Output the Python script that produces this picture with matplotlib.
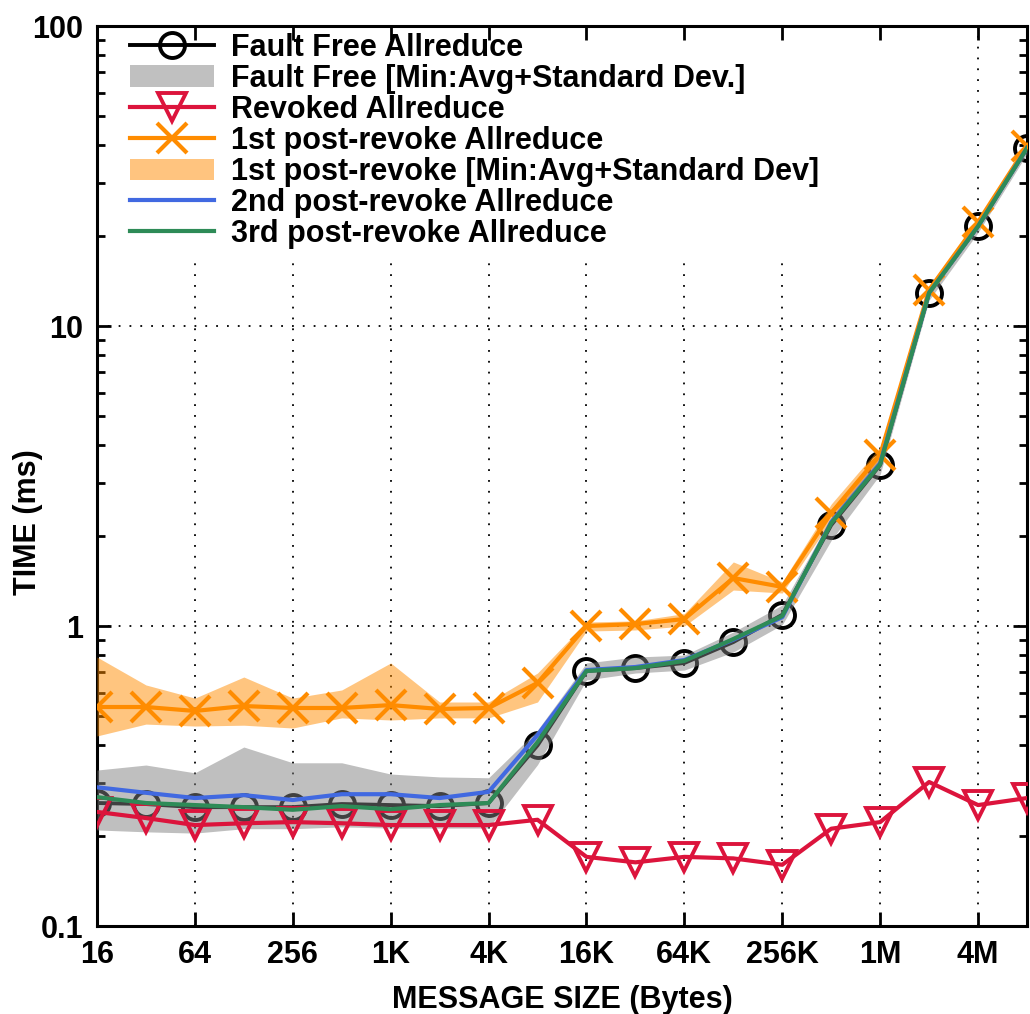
"""Allreduce timing vs message size, fault free vs revoke."""
import matplotlib
matplotlib.use("Agg")
import matplotlib.pyplot as plt
from matplotlib.patches import Rectangle
from matplotlib.ticker import FixedLocator, LogLocator, NullFormatter

plt.rcParams["font.family"] = ["Liberation Sans", "DejaVu Sans"]
plt.rcParams["font.weight"] = "bold"

# --- data ---
sizes = [16, 32, 64, 128, 256, 512, 1024, 2048, 4096, 8192, 16384, 32768,
         65536, 131072, 262144, 524288, 1048576, 2097152, 4194304, 8388608]
tick_sizes = [16, 64, 256, 1024, 4096, 16384, 65536, 262144, 1048576, 4194304]
tick_labels = ["16", "64", "256", "1K", "4K", "16K", "64K", "256K", "1M", "4M"]

fault_free = [0.257, 0.255, 0.249, 0.249, 0.249, 0.255, 0.253, 0.251, 0.257, 0.40,
              0.708, 0.724, 0.753, 0.884, 1.09, 2.17, 3.44, 12.9, 21.5, 39.2]
ff_min = [0.209, 0.206, 0.204, 0.211, 0.211, 0.214, 0.212, 0.212, 0.212, 0.345,
          0.661, 0.697, 0.713, 0.819, 1.01, 1.93, 3.2, 12.2, 20.5, 37.5]
ff_top = [0.331, 0.344, 0.324, 0.395, 0.350, 0.350, 0.321, 0.314, 0.312, 0.45,
          0.753, 0.788, 0.80, 0.955, 1.175, 2.3, 3.8, 13.4, 22.3, 40.5]

revoked = [0.240, 0.229, 0.217, 0.220, 0.222, 0.220, 0.217, 0.217, 0.217, 0.226,
           0.170, 0.163, 0.170, 0.168, 0.160, 0.211, 0.222, 0.302, 0.253, 0.267]

post1 = [0.537, 0.537, 0.521, 0.541, 0.533, 0.533, 0.545, 0.529, 0.533, 0.646,
         1.0, 1.015, 1.055, 1.445, 1.35, 2.38, 3.72, 13.2, 22.2, 39.8]
post1_min = [0.430, 0.471, 0.464, 0.467, 0.457, 0.494, 0.486, 0.494, 0.494, 0.558,
             0.962, 0.97, 1.0, 1.318, 1.288, 2.25, 3.5, 12.6, 21.3, 38.5]
post1_top = [0.788, 0.636, 0.575, 0.676, 0.575, 0.612, 0.753, 0.558, 0.558, 0.697,
             1.031, 1.04, 1.10, 1.635, 1.402, 2.55, 3.95, 13.6, 22.8, 40.8]

post2 = [0.290, 0.278, 0.267, 0.273, 0.263, 0.275, 0.275, 0.267, 0.280, 0.433,
         0.713, 0.73, 0.77, 0.90, 1.07, 2.22, 3.49, 12.9, 21.5, 39.2]
post3 = [0.269, 0.257, 0.253, 0.249, 0.244, 0.251, 0.245, 0.253, 0.257, 0.41,
         0.708, 0.724, 0.765, 0.905, 1.08, 2.2, 3.46, 12.9, 21.5, 39.2]

fig = plt.figure(figsize=(10.3, 10.14), dpi=100)
ax = fig.add_axes([97 / 1030, 88 / 1014, 930 / 1030, 900 / 1014])

ax.set_xscale("log", base=2)
ax.set_yscale("log")
ax.set_xlim(16, 8388608)
ax.set_ylim(0.1, 100)

# dotted grid (drawn by hand so the key area can blank it out)
for t in tick_sizes[1:]:
    ax.axvline(t, color="black", ls=(0, (1, 5)), lw=1.3, zorder=0.5)
for t in [1, 10]:
    ax.axhline(t, color="black", ls=(0, (1, 5)), lw=1.3, zorder=0.5)
ax.add_patch(Rectangle((0, 0.745), 0.865, 0.255, transform=ax.transAxes,
                       facecolor="white", edgecolor="none", zorder=1))

h_ff, = ax.plot(sizes, fault_free, color="black", lw=2.8, marker="o", ms=18,
                mfc="none", mew=2.8, zorder=3, label="Fault Free Allreduce")
ax.fill_between(sizes, ff_min, ff_top, color="#808080", alpha=0.5, lw=0, zorder=3.1)
h_ffb = Rectangle((0, 0), 1, 1, facecolor="#c0c0c0", edgecolor="none",
                  label="Fault Free [Min:Avg+Standard Dev.]")
h_rev, = ax.plot(sizes, revoked, color="#dc143c", lw=3.0, marker="v", ms=20,
                 mfc="none", mew=2.8, zorder=3.2, label="Revoked Allreduce")
h_p1, = ax.plot(sizes, post1, color="#ff8c00", lw=3.0, marker="x", ms=22,
                mew=3.0, zorder=3.3, label="1st post-revoke Allreduce")
ax.fill_between(sizes, post1_min, post1_top, color="#ff8c00", alpha=0.5, lw=0, zorder=3.4)
h_p1b = Rectangle((0, 0), 1, 1, facecolor="#ffc47f", edgecolor="none",
                  label="1st post-revoke [Min:Avg+Standard Dev]")
h_p2, = ax.plot(sizes, post2, color="#4169e1", lw=3.0, zorder=3.5,
                label="2nd post-revoke Allreduce")
h_p3, = ax.plot(sizes, post3, color="#2e8b57", lw=3.0, zorder=3.6,
                label="3rd post-revoke Allreduce")

ax.legend(handles=[h_ff, h_ffb, h_rev, h_p1, h_p1b, h_p2, h_p3],
          loc="upper left", bbox_to_anchor=(0.032, 0.996), frameon=False,
          fontsize=22, handlelength=2.75, handletextpad=0.55, labelspacing=0.035,
          borderaxespad=0.0, borderpad=0.1)

ax.xaxis.set_major_locator(FixedLocator(tick_sizes))
ax.set_xticklabels(tick_labels)
ax.xaxis.set_minor_locator(FixedLocator([]))
ax.yaxis.set_major_locator(FixedLocator([0.1, 1, 10, 100]))
ax.set_yticklabels(["0.1", "1", "10", "100"])
ax.yaxis.set_minor_locator(LogLocator(base=10, subs=range(2, 10)))
ax.yaxis.set_minor_formatter(NullFormatter())
ax.tick_params(which="both", direction="in", top=True, right=True, width=2)
ax.tick_params(which="major", length=10, labelsize=22, pad=10)
ax.tick_params(which="minor", length=6)
for lab in ax.get_xticklabels() + ax.get_yticklabels():
    lab.set_fontweight("bold")
for s in ax.spines.values():
    s.set_linewidth(2.2)

ax.set_xlabel("MESSAGE SIZE (Bytes)", fontsize=22, fontweight="bold", labelpad=11)
ax.set_ylabel("TIME (ms)", fontsize=22, fontweight="bold")
ax.yaxis.set_label_coords(-0.058, 0.449)

fig.savefig("out.png", dpi=100)
